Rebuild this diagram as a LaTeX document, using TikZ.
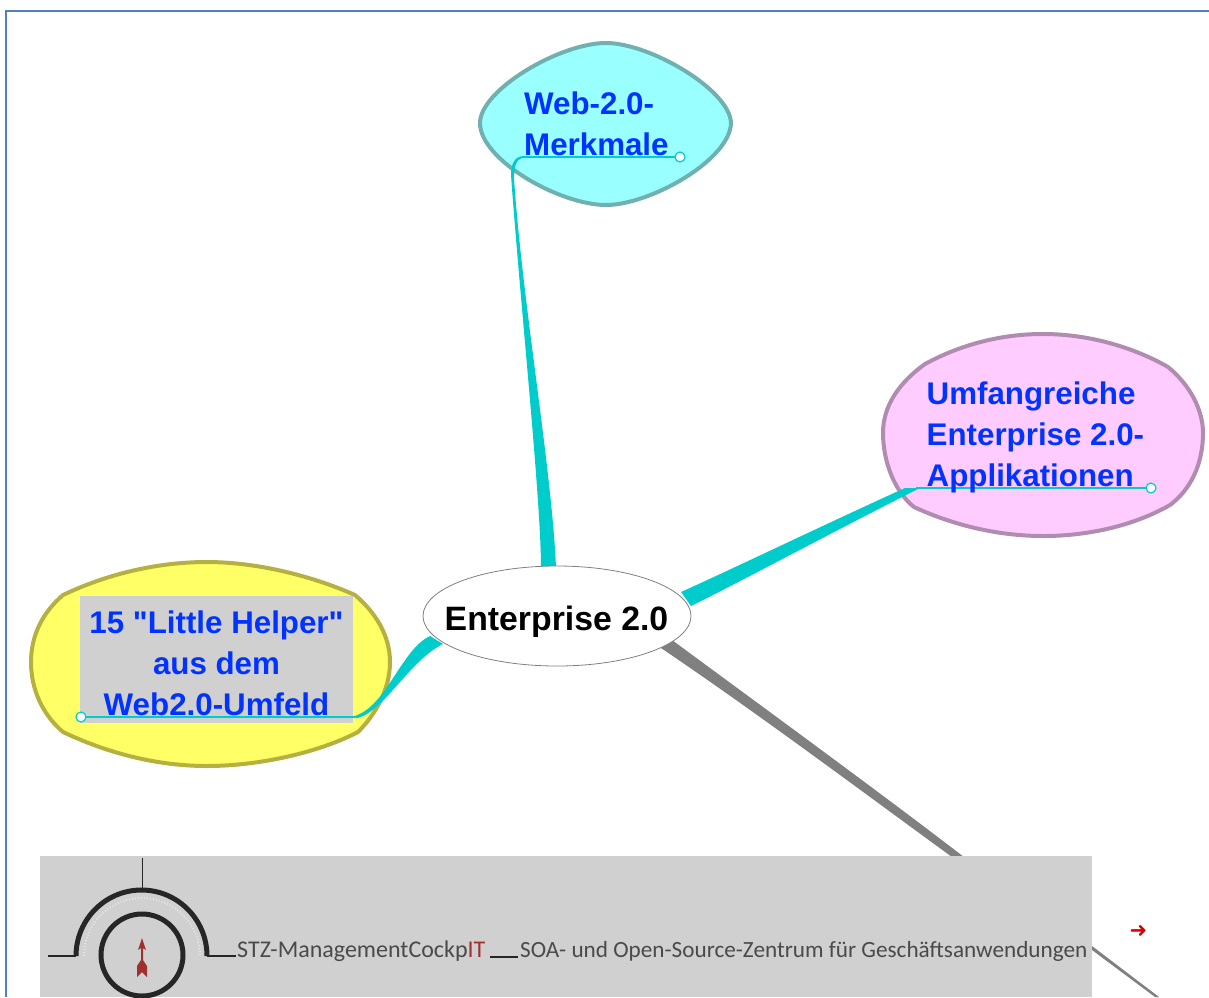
\documentclass[tikz,border=0pt]{standalone}
\usepackage{fontspec}
\newfontfamily\mainf{Liberation Sans}
\newfontfamily\logofont{Carlito}
\newfontfamily\symf{DejaVu Sans}
\usetikzlibrary{shapes.geometric}
\definecolor{teal1}{HTML}{00CCCC}
\definecolor{linkblue}{HTML}{0033FF}
\definecolor{framec}{HTML}{4F81BD}
\definecolor{boxgray}{HTML}{D0D0D0}
\definecolor{logored}{HTML}{A03030}
\definecolor{logotext}{HTML}{4A4A4A}
\definecolor{webfill}{HTML}{99FFFF}
\definecolor{webedge}{HTML}{70B0B0}
\definecolor{appfill}{HTML}{FFCCFF}
\definecolor{appedge}{HTML}{B08CB0}
\definecolor{helpfill}{HTML}{FFFF66}
\definecolor{helpedge}{HTML}{B5B040}
\tikzset{
  blob/.style={line width=4pt,line join=round},
  label/.style={inner sep=0pt,font=\mainf\fontsize{31.3}{40.6}\selectfont\bfseries,text=linkblue,align=left},
  branch/.style={fill=teal1,draw=none},
  thread/.style={draw=teal1,line width=1.4pt},
  knob/.style={circle,draw=teal1,fill=white,line width=1.2pt,minimum size=10pt,inner sep=0pt},
  logotxt/.style={inner sep=0pt,anchor=base west,font=\logofont\fontsize{23.2}{26}\selectfont,text=logotext},
}
\begin{document}
\begin{tikzpicture}[x=1pt,y=-1pt]
\useasboundingbox (0,0) rectangle (1209,997);
\clip (0,0) rectangle (1209,997);
\fill[white] (0,0) rectangle (1209,997);
% frame
\draw[framec,line width=1.3pt] (1209,11) -- (6,11) -- (6,997);
% blobs
\draw[blob,fill=webfill,draw=webedge] (606,43) .. controls (650,43) and (730,90) .. (731,123) .. controls (730,160) and (650,205) .. (606,205) .. controls (560,205) and (480,160) .. (480,123) .. controls (480,90) and (560,43) .. (606,43) -- cycle;
\draw[blob,fill=appfill,draw=appedge] (1043,334) .. controls (1090,334) and (1135,348) .. (1168,367) .. controls (1190,385) and (1203,410) .. (1203,433) .. controls (1203,465) and (1190,490) .. (1170,505) .. controls (1135,525) and (1090,536) .. (1043,536) .. controls (1000,536) and (955,526) .. (914,507) .. controls (895,492) and (883,462) .. (883,433) .. controls (883,405) and (900,382) .. (925,364) .. controls (960,345) and (1000,334) .. (1043,334) -- cycle;
\draw[blob,fill=helpfill,draw=helpedge] (207,562) .. controls (255,562) and (310,575) .. (355,595) .. controls (375,612) and (390,635) .. (390,662) .. controls (390,690) and (375,715) .. (358,732) .. controls (320,752) and (260,766) .. (207,766) .. controls (155,766) and (105,752) .. (63,732) .. controls (43,715) and (31,690) .. (31,662) .. controls (31,635) and (43,612) .. (63,595) .. controls (105,575) and (155,562) .. (207,562) -- cycle;
\fill[boxgray] (80,596) rectangle (353,723);
% named joints
\coordinate (webjoin) at (524,157);
\coordinate (appjoin) at (916,488);
\coordinate (helpjoin) at (355,717);
\coordinate (webknob) at (680,157);
\coordinate (appknob) at (1151,488);
\coordinate (helpknob) at (81,717);
% branches
\fill[gray] (661,648) -- (672,640) .. controls (760,705) and (870,785) .. (964,857) -- (952,857) .. controls (860,790) and (760,715) .. cycle;
\fill[gray] (1092,946) -- (1159,997) -- (1155,997) -- (1092,950) -- cycle;
\fill[branch] (541,568) .. controls (541,500) and (520,300) .. (511,175) .. controls (511,165) and (514,156) .. (524,156) -- (524,158) .. controls (517,158) and (514,165) .. (514,178) .. controls (522,300) and (552,470) .. (556,568) -- cycle;
\fill[branch] (681,592) .. controls (730,570) and (830,522) .. (905,488) -- (920,488) .. controls (840,528) and (740,582) .. (691,606) -- cycle;
\fill[branch] (430,636) .. controls (400,650) and (385,712) .. (350,717) -- (358,718) .. controls (385,710) and (410,660) .. (443,644) -- cycle;
\draw[thread] (webjoin) -- (webknob);
\draw[thread] (appjoin) -- (appknob);
\draw[thread] (helpjoin) -- (helpknob);
\node[knob] (k1) at (webknob) {};
\node[knob] (k2) at (appknob) {};
\node[knob] (k3) at (helpknob) {};
% central
\node[ellipse,draw=gray,fill=white,line width=0.8pt,minimum width=268pt,minimum height=100pt,inner sep=0pt] (center) at (557,616) {};
\node[inner sep=0pt,font=\mainf\fontsize{33.8}{36}\selectfont\bfseries,anchor=base] (centerlabel) at (556.5,630) {Enterprise 2.0};
% labels
\node[label,anchor=north west] (web) at (524,92) {Web-2.0-\\Merkmale};
\node[label,anchor=north west] (app) at (926.5,382) {Umfangreiche\\Enterprise 2.0-\\Applikationen};
\node[label,anchor=north,align=center] (help) at (216.5,611) {15 "Little Helper"\\aus dem\\Web2.0-Umfeld};
% bottom banner
\fill[boxgray] (40,856) rectangle (1092,997);
\draw[black!85,line width=1pt] (142,858) -- (142,888);
\draw[black!85,line width=1.1pt] (48,956) -- (76,956);
\draw[black!85,line width=1.1pt] (207,956) -- (236,956);
\draw[black!85,line width=5pt] (76,956) arc[start angle=180,end angle=0,x radius=65.5pt,y radius=66pt];
\draw[white!80!gray,line width=2pt,dash pattern=on 1pt off 2pt] (84,956) arc[start angle=180,end angle=0,x radius=58pt,y radius=58pt];
\draw[black!85,line width=5pt] (142,955) circle[radius=41pt];
\fill[logored] (142,938) -- (146,950) -- (143,948) -- (143,960) -- (147,966) -- (147,977) -- (142,972) -- (137,977) -- (137,966) -- (141,960) -- (141,948) -- (138,950) -- cycle;
\node[logotxt,font=\logofont\fontsize{24}{26}\selectfont] (brand) at (237,957) {STZ-ManagementCockp\textcolor{logored}{IT}};
\draw[black!85,line width=1.4pt] (490,957) -- (518,957);
\node[logotxt] (claim) at (520,957) {SOA- und Open-Source-Zentrum für Geschäftsanwendungen};
\node[inner sep=0pt,text=red!85!black,font=\symf\fontsize{21}{21}\selectfont\bfseries] (more) at (1138.5,931) {\symbol{"279C}};
\end{tikzpicture}
\end{document}
